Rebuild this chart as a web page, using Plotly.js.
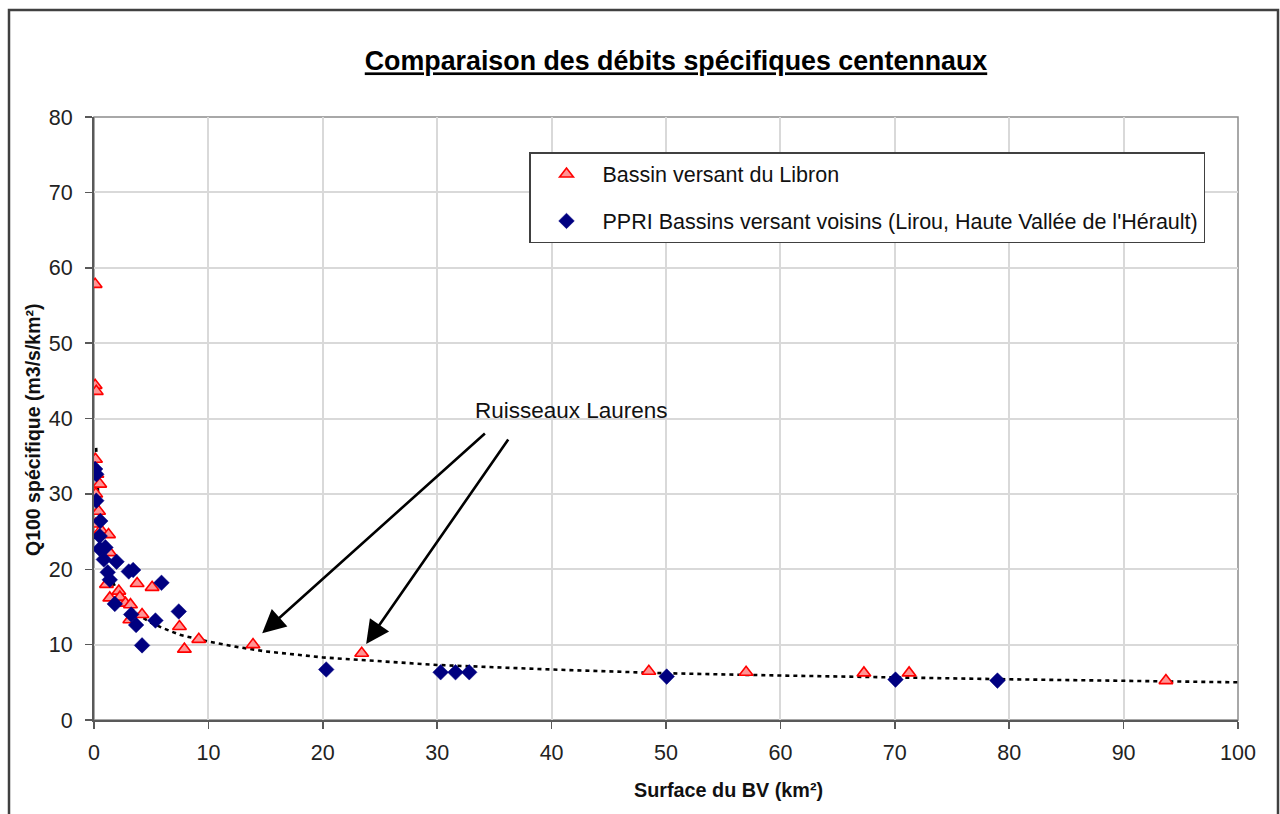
<!DOCTYPE html>
<html>
<head>
<meta charset="utf-8">
<script src="https://cdn.plot.ly/plotly-3.0.1.min.js"></script>
<style>
html,body{margin:0;padding:0;background:#fff;}
#chart{width:1280px;height:814px;}
</style>
</head>
<body>
<div id="chart"></div>
<script>
// Bassin versant du Libron (red triangles)
var libronX = [0.1, 0.1, 0.2, 0.13, 0.25, 0.5, 0.15, 0.4, 0.15, 0.6, 1.27, 1.38, 1.09, 3.77, 5.08, 2.17, 1.38, 2.26, 2.75, 3.19, 4.2, 3.13, 7.47, 9.16, 13.9, 7.9, 23.4, 48.5, 57.0, 67.3, 71.25, 93.7];
var libronY = [57.8, 44.4, 43.6, 34.6, 32.6, 31.3, 30.0, 27.7, 26.0, 25.2, 24.6, 22.2, 18.0, 18.1, 17.6, 17.1, 16.2, 16.3, 15.5, 15.3, 14.0, 13.3, 12.4, 10.7, 10.0, 9.4, 8.85, 6.47, 6.33, 6.25, 6.25, 5.23];

// PPRI Bassins versant voisins (navy diamonds)
var ppriX = [0.1, 0.2, 0.2, 0.55, 0.5, 0.5, 1.0, 0.86, 1.97, 1.2, 3.04, 3.42, 1.38, 5.9, 1.82, 7.41, 3.25, 5.37, 3.68, 4.2, 20.3, 30.3, 31.6, 32.8, 50.06, 70.06, 78.97];
var ppriY = [33.3, 32.6, 29.1, 26.4, 24.4, 22.7, 22.9, 21.3, 21.0, 19.6, 19.7, 19.9, 18.6, 18.2, 15.4, 14.4, 14.0, 13.2, 12.6, 9.9, 6.7, 6.33, 6.33, 6.33, 5.76, 5.36, 5.23];

// Dotted trend curve
var trendX = [0.19, 0.25, 0.3, 0.4, 0.5, 0.6, 0.75, 1, 1.25, 1.5, 2, 2.5, 3, 4, 5, 6, 7.5, 10, 12.5, 15, 20, 25, 30, 40, 50, 60, 70, 80, 90, 100];
var trendY = [36.1, 33.1, 31.3, 28.6, 26.6, 25.1, 23.4, 21.4, 19.9, 18.8, 17.2, 16.0, 15.1, 13.8, 12.9, 12.2, 11.3, 10.4, 9.7, 9.1, 8.3, 7.8, 7.3, 6.7, 6.2, 5.9, 5.6, 5.4, 5.2, 5.0];

var xTicks = [0, 10, 20, 30, 40, 50, 60, 70, 80, 90, 100];
var yTicks = [0, 10, 20, 30, 40, 50, 60, 70, 80];

var seriesNames = ["Bassin versant du Libron", "PPRI Bassins versant voisins (Lirou, Haute Vallée de l'Hérault)"];
var titleText = "Comparaison des débits spécifiques centennaux";
var xTitle = "Surface du BV (km²)";
var yTitle = "Q100 spécifique (m3/s/km²)";
var noteText = "Ruisseaux Laurens";

var FONT = "Liberation Sans, Arial, sans-serif";

var traces = [
  {
    x: trendX, y: trendY, type: "scatter", mode: "lines",
    line: {color: "#000000", width: 2.6, dash: "4px,4px"},
    showlegend: false, hoverinfo: "skip"
  },
  {
    x: libronX, y: libronY, type: "scatter", mode: "markers", name: seriesNames[0],
    legendgroup: "a",
    marker: {symbol: "triangle-up", size: 12, color: "#ff9494", line: {color: "#ff0000", width: 1.6}}
  },
  {
    x: ppriX, y: ppriY, type: "scatter", mode: "markers", name: seriesNames[1],
    legendgroup: "b",
    marker: {symbol: "diamond", size: 12, color: "#000080", line: {color: "#000080", width: 0.5}}
  }
];

var L = 94, R = 42, T = 117, B = 94;
var W = 1280, H = 814;
var pw = W - L - R, ph = H - T - B;
function px2paperX(px){ return (px - L) / pw; }
function px2paperY(py){ return (H - B - py) / ph; }

var layout = {
  width: W, height: H,
  margin: {l: L, r: R, t: T, b: B, pad: 0},
  paper_bgcolor: "#ffffff",
  plot_bgcolor: "#ffffff",
  font: {family: FONT, color: "#111111"},
  title: {
    text: titleText,
    xref: "container", yref: "container",
    x: 676 / W, xanchor: "center",
    y: 1 - 61 / H, yanchor: "middle",
    font: {family: FONT, size: 26.8, color: "#000000", weight: 700, lineposition: "under"}
  },
  xaxis: {
    range: [0, 100], tickvals: xTicks, ticktext: xTicks.map(String),
    showgrid: true, gridcolor: "#d9d9d9", gridwidth: 2,
    zeroline: false, showline: true, linecolor: "#595959", linewidth: 2,
    ticks: "outside", ticklen: 7, tickwidth: 1.5, tickcolor: "#595959",
    tickfont: {family: FONT, size: 21.5, color: "#222222"},
    ticklabelstandoff: 5,
    fixedrange: true
  },
  yaxis: {
    range: [0, 80], tickvals: yTicks, ticktext: yTicks.map(String),
    showgrid: true, gridcolor: "#d9d9d9", gridwidth: 2,
    zeroline: false, showline: true, linecolor: "#595959", linewidth: 2,
    ticks: "outside", ticklen: 7, tickwidth: 1.5, tickcolor: "#595959",
    tickfont: {family: FONT, size: 21.5, color: "#222222"},
    ticklabelstandoff: 8,
    fixedrange: true
  },
  legend: {
    x: px2paperX(529), y: px2paperY(152), xanchor: "left", yanchor: "top",
    bgcolor: "#ffffff", bordercolor: "#404040", borderwidth: 1.5,
    font: {family: FONT, size: 21.5, color: "#111111"},
    traceorder: "grouped", tracegroupgap: 16,
    itemwidth: 62
  },
  shapes: [
    {type: "rect", xref: "paper", yref: "paper", x0: 0, x1: 1, y0: 0, y1: 1,
     line: {color: "#8c8c8c", width: 1.5}, fillcolor: "rgba(0,0,0,0)", layer: "below"},
    {type: "rect", xref: "paper", yref: "paper",
     x0: px2paperX(9), x1: px2paperX(1278), y0: px2paperY(840), y1: px2paperY(10),
     line: {color: "#404040", width: 2.5}, fillcolor: "rgba(0,0,0,0)"}
  ],
  annotations: [
    {text: "<b>" + xTitle + "</b>", xref: "paper", yref: "paper",
     x: px2paperX(728), y: px2paperY(790), xanchor: "center", yanchor: "middle",
     showarrow: false, font: {family: FONT, size: 19.8, color: "#111111"}},
    {text: "<b>" + yTitle + "</b>", xref: "paper", yref: "paper",
     x: px2paperX(33), y: px2paperY(430), xanchor: "center", yanchor: "middle",
     textangle: -90, showarrow: false, font: {family: FONT, size: 19.5, color: "#111111"}},
    {text: noteText, xref: "x", yref: "y", x: 41.7, y: 41.0,
     showarrow: false, font: {family: FONT, size: 22.5, color: "#111111"}},
    {text: "", xref: "x", yref: "y", x: 14.7, y: 11.5, axref: "x", ayref: "y", ax: 34.3, ay: 38.2,
     showarrow: true, arrowhead: 2, arrowsize: 1.8, arrowwidth: 2.6, arrowcolor: "#000000", standoff: 0},
    {text: "", xref: "x", yref: "y", x: 23.79, y: 10.08, axref: "x", ayref: "y", ax: 36.3, ay: 37.4,
     showarrow: true, arrowhead: 2, arrowsize: 1.8, arrowwidth: 2.6, arrowcolor: "#000000", standoff: 0}
  ]
};

Plotly.newPlot("chart", traces, layout, {displayModeBar: false, staticPlot: true});
</script>
</body>
</html>
